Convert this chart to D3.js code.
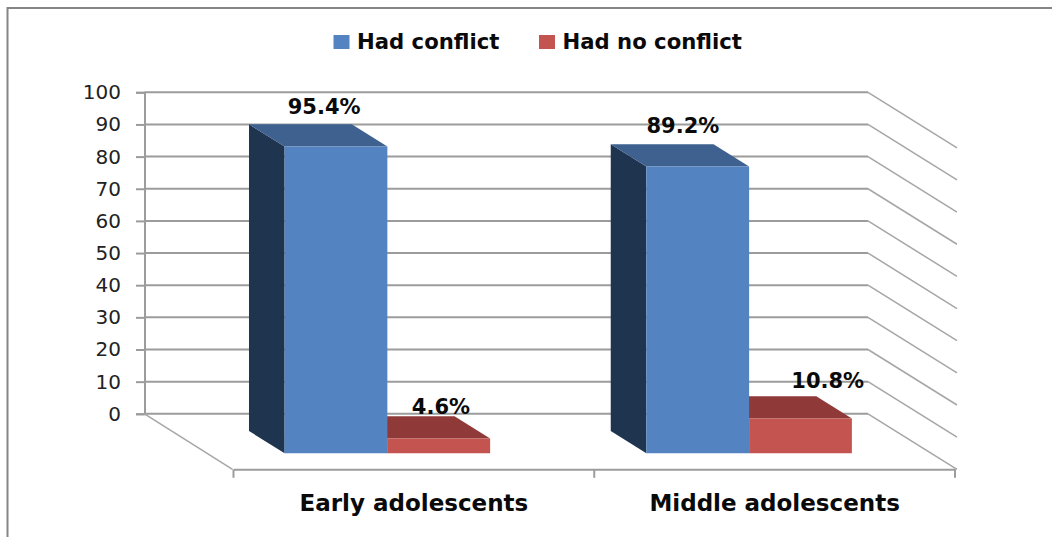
<!DOCTYPE html>
<html>
<head>
<meta charset="utf-8">
<script src="https://cdn.jsdelivr.net/npm/d3@7"></script>
<style>
    html, body { margin: 0; padding: 0; background: #fff; }
    svg { display: block; }
    text { font-family: "DejaVu Sans", sans-serif; }
</style>
</head>
<body>
<div id="viz"></div>
<script>
var categories = ["Early adolescents", "Middle adolescents"];
var series = ["Had conflict", "Had no conflict"];
var hadConflict = [95.4, 89.2];
var hadNoConflict = [4.6, 10.8];
var yTicks = [0, 10, 20, 30, 40, 50, 60, 70, 80, 90, 100];

var canw = 1052, canh = 537;
var wallLeft = 144.5, wallRight = 868;
var floorDx = 89, floorDy = 55.5;
// where the bar's back and front sit on the floor, 0 = wall, 1 = front edge
var barBack = 0.31, barFront = 0.71;

var grid = "#9c9c9c";
var colors = [
    { front: "#5384c1", top: "#3e618f", side: "#1f344f" },
    { front: "#c4544f", top: "#8f3a39", side: "#6e2b2a" }
];

// label nudges, the original labels do not sit centred on the bars
var labelShift = [
    [{ dx: 6, dy: -10 }, { dx: 20, dy: -2 }],
    [{ dx: 3, dy: -11 }, { dx: 45, dy: -8 }]
];

var y = d3.scaleLinear().domain([0, 100]).range([413.8, 92.3]);
var x = d3.scaleBand().domain(categories).range([wallLeft, wallRight]);
var xs = d3.scaleBand().domain(series).range([-1.2, x.bandwidth() - 1.2]).paddingInner(0).paddingOuter(0.76);

var s = d3.select("#viz").append("svg").attr("width", canw).attr("height", canh);

// frame
s.append("path")
    .attr("d", "M1052,8H7.5V537")
    .attr("fill", "none")
    .attr("stroke", "#858585")
    .attr("stroke-width", 2);

// wall gridlines and side wall
s.append("g").selectAll("line").data(yTicks).join("line")
    .attr("x1", wallLeft).attr("x2", wallRight)
    .attr("y1", function(d){ return y(d); }).attr("y2", function(d){ return y(d); })
    .attr("stroke", grid).attr("stroke-width", 2);

s.append("g").selectAll("line").data(yTicks).join("line")
    .attr("x1", wallRight).attr("x2", wallRight + floorDx)
    .attr("y1", function(d){ return y(d); }).attr("y2", function(d){ return y(d) + floorDy; })
    .attr("stroke", "#a6a6a6").attr("stroke-width", 1.5);

// value axis
var yAxis = s.append("g")
    .attr("transform", "translate(" + wallLeft + ",0)")
    .call(d3.axisLeft(y).tickValues(yTicks).tickSize(8.5).tickPadding(15));
yAxis.selectAll("path, line").attr("stroke", grid).attr("stroke-width", 2);
yAxis.selectAll("text")
    .attr("font-family", "DejaVu Sans")
    .attr("font-size", 20)
    .attr("fill", "#222");

// floor
s.append("line")
    .attr("x1", wallLeft).attr("y1", y(0))
    .attr("x2", wallLeft + floorDx - 1).attr("y2", y(0) + floorDy)
    .attr("stroke", "#a6a6a6").attr("stroke-width", 1.5);

var xFront = d3.scaleBand().domain(categories).range([wallLeft + floorDx, wallRight + floorDx - 2]);
var floorY = y(0) + floorDy;
var xAxis = s.append("g")
    .attr("transform", "translate(0," + floorY + ")")
    .call(d3.axisBottom(xFront).tickSize(0).tickPadding(0));
xAxis.selectAll(".tick").remove();
xAxis.select("path").attr("stroke", grid).attr("stroke-width", 2);

var edges = categories.map(function(c){ return xFront(c); }).concat([xFront.range()[1]]);
s.append("g").selectAll("line").data(edges).join("line")
    .attr("x1", function(d){ return d; }).attr("x2", function(d){ return d; })
    .attr("y1", floorY).attr("y2", floorY + 8.5)
    .attr("stroke", grid).attr("stroke-width", 2);

s.append("g").selectAll("text").data(categories).join("text")
    .attr("x", function(d){ return xFront(d) + xFront.bandwidth() / 2; })
    .attr("y", 511)
    .attr("text-anchor", "middle")
    .attr("font-weight", "bold")
    .attr("font-size", 23)
    .attr("fill", "#0a0a0a")
    .text(function(d){ return d; });

function pt(px, v, depth){
    return [px + depth * floorDx, y(v) + depth * floorDy];
}
function poly(pts){
    return pts.map(function(p){ return p.join(","); }).join(" ");
}

// one bar: side, top, front, then its label
function drawBar(g, cat, catIndex, name, serIndex, v){
    var c = colors[serIndex];
    var x0 = x(cat) + xs(name);
    var x1 = x0 + xs.bandwidth();
    g.append("polygon")
        .attr("points", poly([pt(x0, 0, barBack), pt(x0, v, barBack), pt(x0, v, barFront), pt(x0, 0, barFront)]))
        .attr("fill", c.side);
    g.append("polygon")
        .attr("points", poly([pt(x0, v, barBack), pt(x1, v, barBack), pt(x1, v, barFront), pt(x0, v, barFront)]))
        .attr("fill", c.top);
    g.append("polygon")
        .attr("points", poly([pt(x0, 0, barFront), pt(x0, v, barFront), pt(x1, v, barFront), pt(x1, 0, barFront)]))
        .attr("fill", c.front);
}

var values = [hadConflict, hadNoConflict];
var bars = s.append("g");
categories.forEach(function(cat, i){
    // red goes first, the blue bar covers its left end
    drawBar(bars, cat, i, series[1], 1, values[1][i]);
    drawBar(bars, cat, i, series[0], 0, values[0][i]);
});

var labels = s.append("g");
categories.forEach(function(cat, i){
    series.forEach(function(name, j){
        var v = values[j][i];
        var mid = x(cat) + xs(name) + xs.bandwidth() / 2;
        var p = pt(mid, v, (barBack + barFront) / 2);
        labels.append("text")
            .attr("x", p[0] + labelShift[i][j].dx)
            .attr("y", pt(mid, v, barBack)[1] + labelShift[i][j].dy)
            .attr("text-anchor", "middle")
            .attr("font-weight", "bold")
            .attr("font-size", 21)
            .attr("fill", "#0a0a0a")
            .text(v + "%");
    });
});

// legend
var legendX = d3.scaleOrdinal().domain(series).range([333.5, 539]);
var legend = s.append("g").selectAll("g").data(series).join("g")
    .attr("transform", function(d){ return "translate(" + legendX(d) + ",35)"; });
legend.append("rect")
    .attr("width", 16).attr("height", 14)
    .attr("fill", function(d, i){ return colors[i].front; });
legend.append("text")
    .attr("x", 23.5).attr("y", 14)
    .attr("font-weight", "bold")
    .attr("font-size", 21.2)
    .attr("fill", "#0a0a0a")
    .text(function(d){ return d; });
</script>
</body>
</html>
